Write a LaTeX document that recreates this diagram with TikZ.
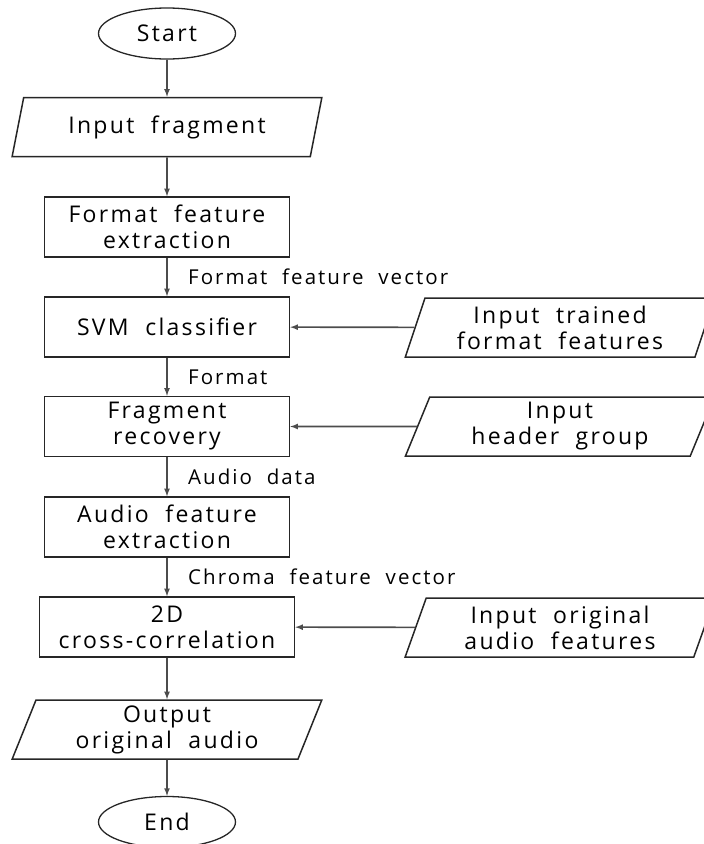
\documentclass[tikz,border=0pt]{standalone}
\usepackage{fontspec}
\setmainfont{Open Sans}[LetterSpace=10, WordSpace=2]
\usetikzlibrary{shapes.geometric, arrows}
\tikzstyle{startstop} = [ellipse, minimum width=137pt, minimum height=51pt, inner sep=0, draw=black!85, line width=1.3pt, font=\fontsize{23}{26}\selectfont]
\tikzstyle{io} = [trapezium, trapezium left angle=71, trapezium right angle=109, trapezium stretches=true, minimum width=310pt, minimum height=59pt, inner sep=0, draw=black!85, line width=1.5pt, align=center, font=\fontsize{23}{26}\selectfont]
\tikzstyle{process} = [rectangle, minimum width=245pt, minimum height=60pt, inner sep=0, draw=black!85, line width=1.5pt, align=center, font=\fontsize{23}{26}\selectfont]
\tikzstyle{arrow} = [line width=1.6pt, black!70, ->, >=latex]
\tikzstyle{lbl} = [anchor=west, inner sep=0, font=\fontsize{20.5}{24}\selectfont]

\begin{document}
\begin{tikzpicture}[x=1pt,y=-1pt]
\useasboundingbox (0,0) rectangle (704,844);
\clip (0,0) rectangle (704,844);

% main column
\node (start) [startstop] at (167,33.5) {Start};
\node (infrag) [io] at (167,127) {Input fragment};
\node (ffe) [process] at (167,227) {Format feature\\extraction};
\node (svm) [process] at (167,327) {SVM classifier};
\node (frec) [process] at (167,426.5) {Fragment\\recovery};
\node (afe) [process] at (167,527) {Audio feature\\extraction};
\node (xcorr) [process, minimum width=255pt] at (167,627) {2D\\cross-correlation};
\node (out) [io] at (167,729.5) {Output\\original audio};
\node (end) [startstop] at (167,822) {End};

% side inputs
\node (intrain) [io] at (560,327.5) {Input trained\\format features};
\node (inhead) [io] at (560,426.5) {Input\\header group};
\node (inorig) [io] at (560,627.5) {Input original\\audio features};

% labels
\node (lffv) [lbl] at (188,277) {Format feature vector};
\node (lfmt) [lbl] at (188,377) {Format};
\node (laud) [lbl] at (188,477) {Audio data};
\node (lcfv) [lbl] at (188,577) {Chroma feature vector};

\draw [arrow] (start) -- (infrag);
\draw [arrow] (infrag) -- (ffe);
\draw [arrow] (ffe) -- (svm);
\draw [arrow] (svm) -- (frec);
\draw [arrow] (frec) -- (afe);
\draw [arrow] (afe) -- (xcorr);
\draw [arrow] (xcorr) -- (out);
\draw [arrow] (out) -- (end);
\draw [arrow] (intrain) -- (svm);
\draw [arrow] (inhead) -- (frec);
\draw [arrow] (inorig) -- (xcorr);
\end{tikzpicture}
\end{document}
